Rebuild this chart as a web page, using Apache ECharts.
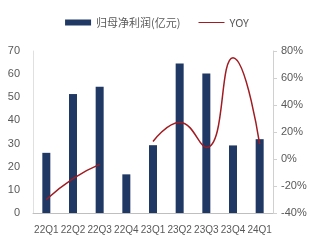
<!DOCTYPE html>
<html><head><meta charset="utf-8">
<script src="https://cdn.jsdelivr.net/npm/echarts@6/dist/echarts.min.js"></script>
<style>html,body{margin:0;padding:0;background:#fff}#c{width:314px;height:240px}</style>
</head><body><div id="c"></div>
<script>
const categories = ['22Q1','22Q2','22Q3','22Q4','23Q1','23Q2','23Q3','23Q4','24Q1'];
const profit = [26, 51.4, 54.5, 16.7, 29.3, 64.6, 60.3, 29.2, 31.9];
const yoy = [-30, -14.5, -4, null, 13, 27, 8.5, 75, 11];
const leftTicks = {min: 0, max: 70, interval: 10};
const rightTicks = {min: -40, max: 80, interval: 20};

const chart = echarts.init(document.getElementById('c'));
const txt = '#595959';
chart.setOption({
  animation: false,
  textStyle: {fontFamily: 'Liberation Sans, Arial, sans-serif'},
  legend: {
    top: 12, left: 'center', itemGap: 18, itemWidth: 26, itemHeight: 6,
    textStyle: {color: txt, fontSize: 11, fontFamily: 'Noto Sans CJK SC'},
    data: [{name: '归母净利润(亿元)', icon: 'rect'}, {name: 'YOY', icon: 'path://M0,0 L26,0 L26,1 L0,1 Z'}]
  },
  grid: {left: 33, right: 41, top: 51, bottom: 27},
  xAxis: {
    type: 'category', data: categories,
    axisLine: {lineStyle: {color: '#bfbfbf'}},
    axisTick: {show: false},
    axisLabel: {color: txt, fontSize: 10, margin: 12, interval: 0}
  },
  yAxis: [{
    type: 'value', ...leftTicks,
    axisLine: {show: true, lineStyle: {color: '#e0e0e0'}},
    axisTick: {show: false},
    splitLine: {show: false},
    axisLabel: {color: txt, fontSize: 11, margin: 13}
  }, {
    type: 'value', ...rightTicks,
    axisLine: {show: true, lineStyle: {color: '#d0d0d0'}},
    axisTick: {show: true, length: 4, lineStyle: {color: '#d0d0d0'}},
    splitLine: {show: false},
    axisLabel: {color: txt, fontSize: 11, margin: 8, formatter: '{value}%'}
  }],
  series: [{
    name: '归母净利润(亿元)', type: 'bar', data: profit, barWidth: 8,
    itemStyle: {color: '#203864'}
  }, {
    name: 'YOY', type: 'line', yAxisIndex: 1, data: yoy, smooth: true,
    connectNulls: false, symbol: 'none',
    lineStyle: {color: '#a01c22', width: 1.5}, itemStyle: {color: '#a01c22'}
  }]
});
</script></body></html>
